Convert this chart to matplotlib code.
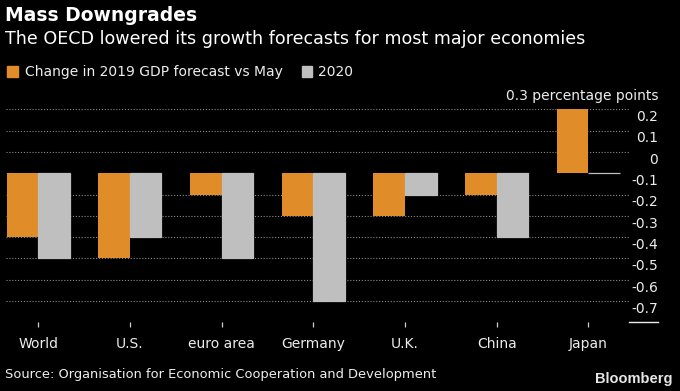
import matplotlib
matplotlib.use("Agg")
import matplotlib.pyplot as plt
import matplotlib.transforms as mtransforms
from matplotlib.patches import Rectangle
from matplotlib.lines import Line2D
import numpy as np

# ---- data ----
categories = ["World", "U.S.", "euro area", "Germany", "U.K.", "China", "Japan"]
change_2019 = [-0.3, -0.4, -0.1, -0.2, -0.2, -0.1, 0.3]
change_2020 = [-0.4, -0.3, -0.4, -0.6, -0.1, -0.3, 0.0]
y_ticks = [0.3, 0.2, 0.1, 0.0, -0.1, -0.2, -0.3, -0.4, -0.5, -0.6, -0.7]
y_tick_labels = ["0.3 percentage points", "0.2", "0.1", "0", "-0.1", "-0.2",
                 "-0.3", "-0.4", "-0.5", "-0.6", "-0.7"]
series_names = ["Change in 2019 GDP forecast vs May", "2020"]

ORANGE = "#E08C28"
GRAY = "#BFBFBF"
TEXT = "#EDEDED"
GRID = "#8c8c8c"

W, H = 680, 391
fig = plt.figure(figsize=(W / 100, H / 100), dpi=100, facecolor="black")


def fx(px):
    return px / W


def fy(py):
    return 1 - py / H


ax = fig.add_axes([fx(6), fy(322.4), fx(630) - fx(6), fy(109.4) - fy(322.4)])
ax.set_facecolor("black")
for s in ax.spines.values():
    s.set_visible(False)

x = np.arange(len(categories))
w = 0.344
ax.bar(x - w / 2, change_2019, w, color=ORANGE, zorder=2)
ax.bar(x + w / 2, change_2020, w, color=GRAY, edgecolor=GRAY, linewidth=0.9, zorder=2)
ax.set_xlim(-0.351, 6.454)
ax.set_ylim(-0.7, 0.3)

# dotted gridlines
for v in y_ticks:
    if v == 0.0 or v == -0.7:
        continue
    ax.axhline(v, color=GRID, lw=0.8, ls=(0, (1, 1.6)), zorder=1, clip_on=False)

# y labels on the right, sitting above their lines
blend = mtransforms.blended_transform_factory(fig.transFigure, ax.transData)
offset = mtransforms.ScaledTranslation(0, 9.5 / 100, fig.dpi_scale_trans)
for v, lab in zip(y_ticks, y_tick_labels):
    ax.text(fx(658), v, lab, transform=blend + offset, ha="right", va="baseline",
            color=TEXT, fontsize=10, clip_on=False)
ax.set_yticks([])
# short solid line at the bottom tick
ax.add_line(Line2D([fx(629), fx(658)], [-0.7, -0.7], transform=blend, color=TEXT,
                   lw=1.0, clip_on=False))

# x ticks
ax.set_xticks(x)
ax.set_xticklabels(categories, color=TEXT, fontsize=10)
ax.tick_params(axis="x", length=3.5, width=0.9, color="#cfcfcf", pad=7)

# titles
fig.text(fx(5), fy(21), "Mass Downgrades", fontsize=13.5, fontweight="bold",
         color="white", va="baseline", ha="left")
fig.text(fx(5), fy(43.5), "The OECD lowered its growth forecasts for most major economies",
         fontsize=12.6, color="white", va="baseline", ha="left")

# legend
fig.add_artist(Rectangle((fx(7.3), fy(77)), fx(11), 11 / H, transform=fig.transFigure,
                         color=ORANGE))
fig.text(fx(25), fy(76), series_names[0], fontsize=10, color=TEXT, va="baseline")
fig.add_artist(Rectangle((fx(301.7), fy(77)), fx(10.6), 11 / H, transform=fig.transFigure,
                         color=GRAY))
fig.text(fx(318), fy(76), series_names[1], fontsize=10, color=TEXT, va="baseline")

# footer
fig.text(fx(5), fy(378.3), "Source: Organisation for Economic Cooperation and Development",
         fontsize=9.4, color=TEXT, va="baseline")
fig.text(fx(673), fy(383.3), "Bloomberg", fontsize=10.5, fontweight="bold",
         family="Liberation Sans", color="#e6e6e6", va="baseline", ha="right")

fig.savefig("out.png", dpi=100, facecolor="black")
